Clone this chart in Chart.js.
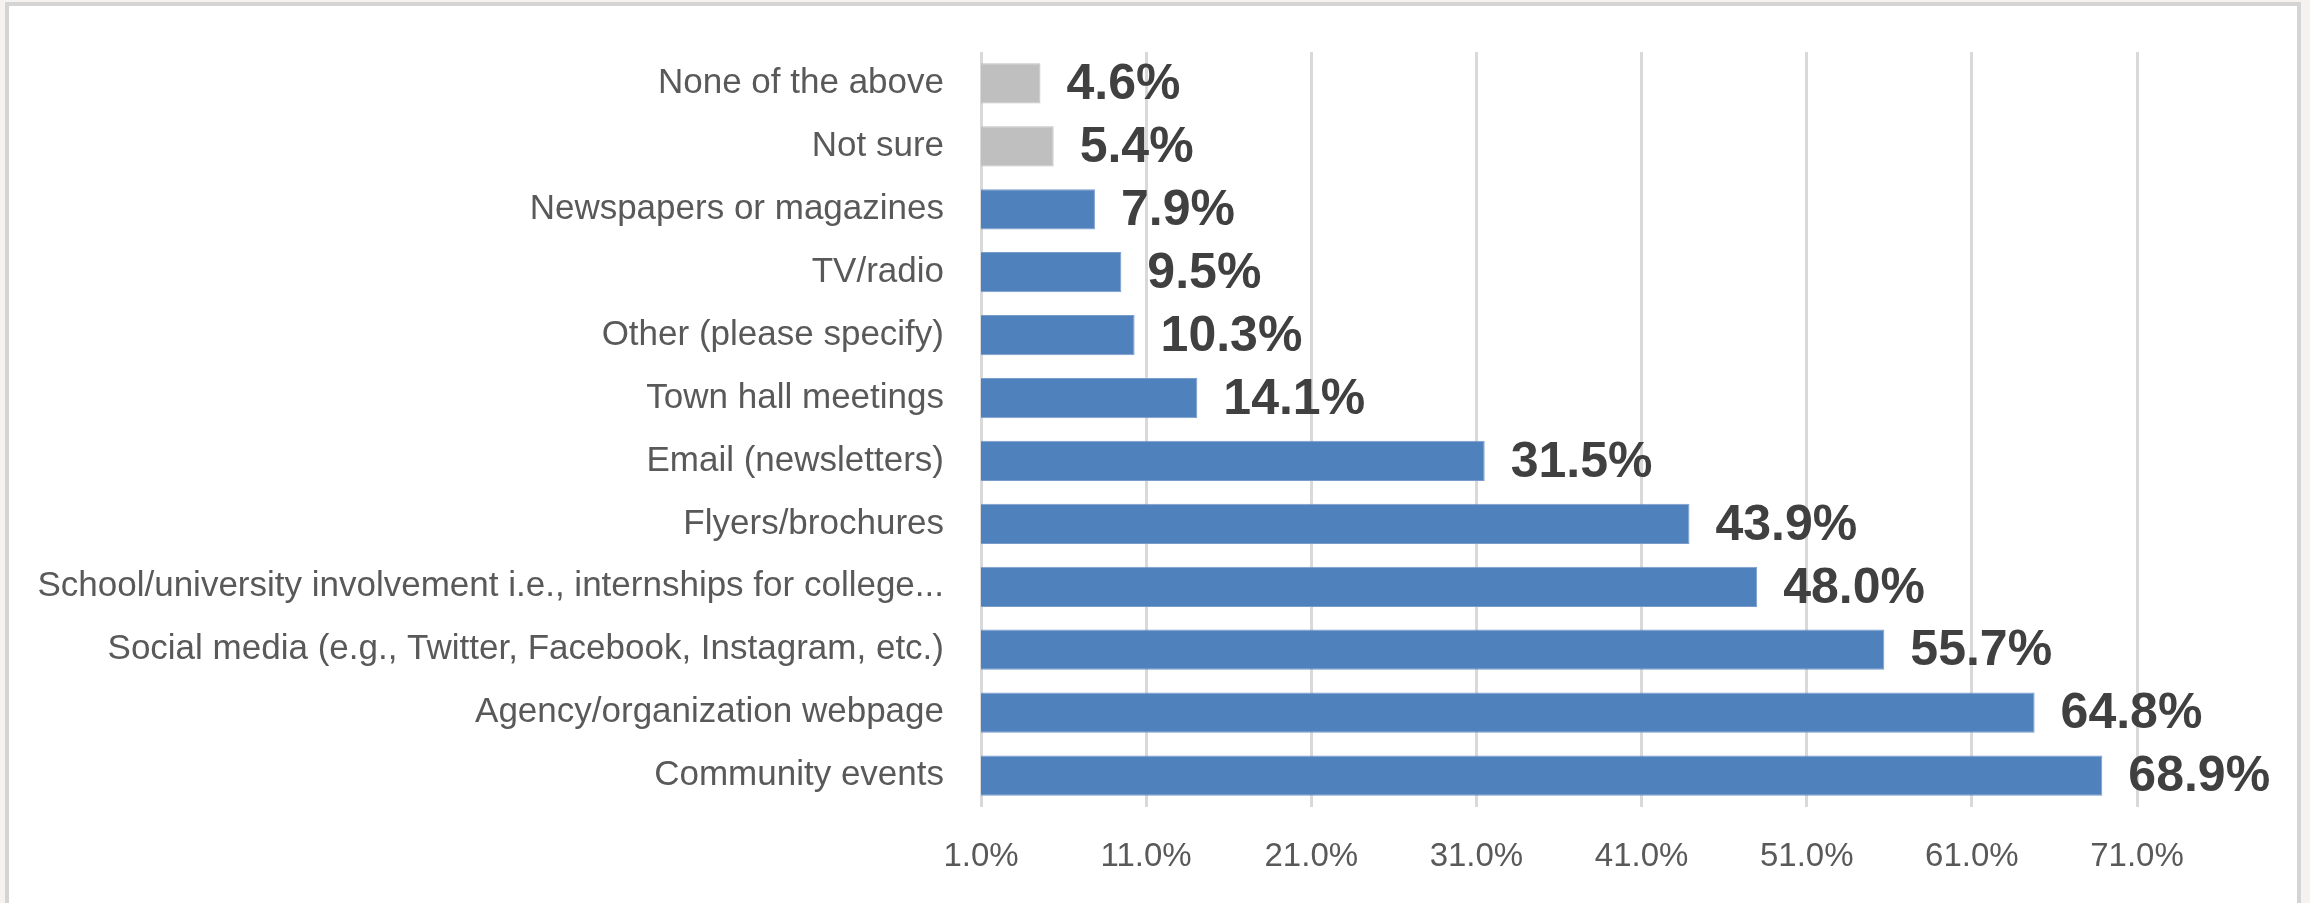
<!DOCTYPE html>
<html>
<head>
<meta charset="utf-8">
<script src="https://cdn.jsdelivr.net/npm/chart.js@4/dist/chart.umd.min.js"></script>
<style>
    html, body { margin: 0; padding: 0; background: #f5f2ef; }
    #frame {
        position: absolute;
        left: 5px;
        top: 2px;
        width: 2288px;
        height: 901px;
        background: #ffffff;
        border: 4px solid #d4d4d4;
        border-bottom: none;
    }
    #chart { display: block; }
</style>
</head>
<body>
<div id="frame"><canvas id="chart" width="2288" height="901"></canvas></div>
<script>
// Survey answers, listed top to bottom
const categories = [
    "None of the above",
    "Not sure",
    "Newspapers or magazines",
    "TV/radio",
    "Other (please specify)",
    "Town hall meetings",
    "Email (newsletters)",
    "Flyers/brochures",
    "School/university involvement i.e., internships for college...",
    "Social media (e.g., Twitter, Facebook, Instagram, etc.)",
    "Agency/organization webpage",
    "Community events"
];
const percentages = [4.6, 5.4, 7.9, 9.5, 10.3, 14.1, 31.5, 43.9, 48.0, 55.7, 64.8, 68.9];
// "None of the above" and "Not sure" are shown in gray
const neutralAnswers = ["None of the above", "Not sure"];
const axisTicks = [1, 11, 21, 31, 41, 51, 61, 71];

const FONT = "'Liberation Sans', Arial, sans-serif";
const BLUE = "#4f81bd";
const GRAY = "#bfbfbf";

const barColors = categories.map(c => neutralAnswers.includes(c) ? GRAY : BLUE);

// value labels to the right of each bar
const valueLabels = {
    id: "valueLabels",
    afterDatasetsDraw(chart) {
        const ctx = chart.ctx;
        const meta = chart.getDatasetMeta(0);
        ctx.save();
        ctx.font = "bold 50px " + FONT;
        ctx.fillStyle = "#404040";
        ctx.textAlign = "left";
        ctx.textBaseline = "middle";
        meta.data.forEach((bar, i) => {
            ctx.fillText(percentages[i].toFixed(1) + "%", bar.x + 26, bar.y + 2);
        });
        ctx.restore();
    }
};

new Chart(document.getElementById("chart").getContext("2d"), {
    type: "bar",
    data: {
        labels: categories,
        datasets: [{
            data: percentages,
            backgroundColor: barColors,
            borderColor: barColors.map(c => c === BLUE ? "#7a9ccc" : GRAY),
            borderWidth: 1,
            borderSkipped: false,
            categoryPercentage: 1,
            barPercentage: 0.64
        }]
    },
    options: {
        indexAxis: "y",
        responsive: false,
        animation: false,
        layout: { padding: { top: 46, right: 160, left: 0, bottom: 0 } },
        plugins: {
            legend: { display: false },
            tooltip: { enabled: false }
        },
        scales: {
            x: {
                min: axisTicks[0],
                max: axisTicks[axisTicks.length - 1],
                afterBuildTicks(scale) {
                    scale.ticks = axisTicks.map(v => ({ value: v }));
                },
                afterFit(scale) { scale.height = 100; },
                grid: { color: "#d9d9d9", lineWidth: 3, drawTicks: false },
                border: { display: false },
                ticks: {
                    padding: 30,
                    color: "#595959",
                    font: { family: FONT, size: 33 },
                    callback: v => v.toFixed(1) + "%"
                }
            },
            y: {
                afterFit(scale) {
                    scale.width = 972;
                    // labels sit mid-category, no extra room needed above/below
                    scale.paddingTop = 0;
                    scale.paddingBottom = 0;
                },
                grid: { display: false, drawTicks: false },
                border: { display: false },
                ticks: {
                    padding: 37,
                    color: "#595959",
                    font: { family: FONT, size: 35 }
                }
            }
        }
    },
    plugins: [valueLabels]
});
</script>
</body>
</html>
